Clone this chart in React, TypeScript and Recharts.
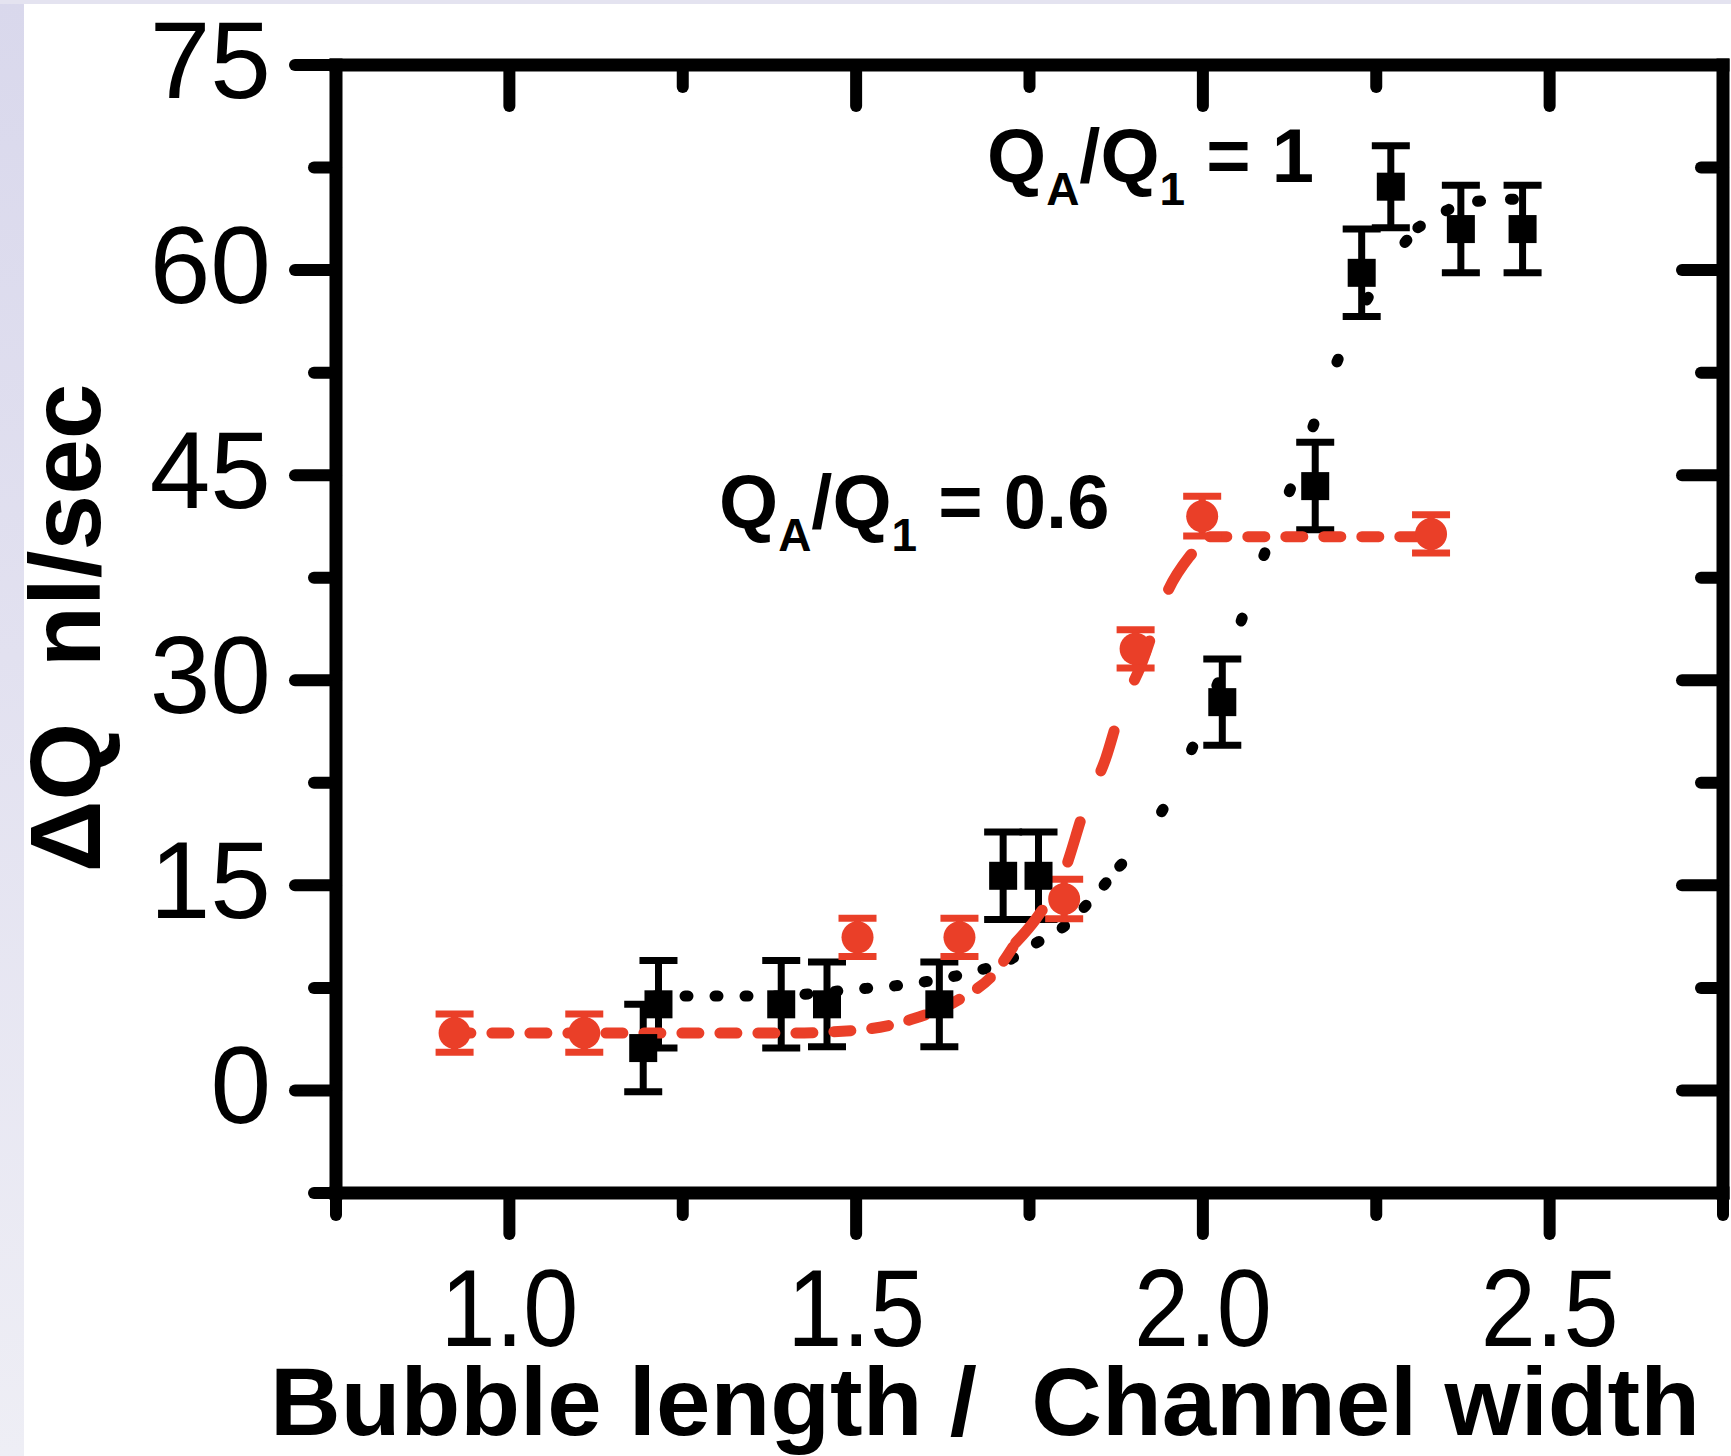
import React from "react";
import { ComposedChart, XAxis, YAxis, Scatter, Line, ErrorBar } from "recharts";

// ---------- axis ticks ----------
const xTicks = [0.75, 1.0, 1.25, 1.5, 1.75, 2.0, 2.25, 2.5, 2.75];
const xMajorTicks = [1.0, 1.5, 2.0, 2.5];
const xTickLabels = ["1.0", "1.5", "2.0", "2.5"];
const yTicks = [-7.5, 0, 7.5, 15, 22.5, 30, 37.5, 45, 52.5, 60, 67.5, 75];
const yMajorTicks = [0, 15, 30, 45, 60, 75];
const yTickLabels = ["0", "15", "30", "45", "60", "75"];

// ---------- measured data: QA/Q1 = 0.6 (red circles) ----------
const redX = [0.921, 1.108, 1.502, 1.649, 1.8, 1.903, 1.999, 2.329];
const redY = [4.2, 4.2, 11.2, 11.2, 14.0, 32.3, 42.0, 40.7];
const redErr = [1.4, 1.4, 1.4, 1.4, 1.45, 1.4, 1.45, 1.4];

// ---------- measured data: QA/Q1 = 1 (black squares) ----------
const blackX = [1.193, 1.215, 1.392, 1.458, 1.62, 1.712, 1.763, 2.028, 2.162, 2.229, 2.271, 2.372, 2.461];
const blackY = [3.1, 6.3, 6.3, 6.3, 6.3, 15.7, 15.7, 28.4, 44.2, 59.8, 66.1, 63.0, 63.0];
const blackErr = [3.2, 3.2, 3.2, 3.1, 3.1, 3.2, 3.2, 3.15, 3.2, 3.2, 3.0, 3.2, 3.2];

// ---------- fit curves ----------
const redFitLowX = [0.92, 1.1, 1.4, 1.5, 1.58, 1.65, 1.7, 1.73];
const redFitLowY = [4.2, 4.2, 4.2, 4.4, 5.2, 6.7, 8.6, 10.8];
const redFitSteepX = [1.73, 1.76, 1.8, 1.83, 1.86, 1.88, 1.91, 1.95, 1.98, 2.01];
const redFitSteepY = [10.8, 12.6, 16.0, 20.7, 24.3, 27.6, 31.0, 36.6, 39.0, 40.5];
const redFitHighX = [2.01, 2.15, 2.33];
const redFitHighY = [40.5, 40.5, 40.5];

const blackFitLowX = [1.21, 1.3, 1.37, 1.5, 1.58, 1.67, 1.72, 1.75, 1.8, 1.84, 1.88];
const blackFitLowY = [6.9, 6.9, 6.9, 7.4, 7.8, 8.7, 9.5, 10.5, 12.0, 14.0, 16.4];
const blackFitSteepX = [1.88, 1.93, 1.97, 2.01, 2.05, 2.09, 2.14, 2.18, 2.27, 2.31];
const blackFitSteepY = [16.4, 19.5, 23.3, 28.3, 33.6, 39.4, 45.8, 51.6, 60.6, 63.1];
const blackFitHighX = [2.31, 2.39, 2.46];
const blackFitHighY = [63.1, 65.0, 65.2];

const RED = "#EA3F28";
const FONT = '"Liberation Sans", Arial, Helvetica, sans-serif';

const pts = (xs: number[], ys: number[], es?: number[]) =>
  xs.map((x, i) => ({ x, y: ys[i], e: es ? es[i] : 0 }));

const redData = pts(redX, redY, redErr);
const blackData = pts(blackX, blackY, blackErr);

const near = (arr: number[], v: number) => arr.findIndex((m) => Math.abs(m - v) < 1e-9);

const MAJOR = 41;
const MINOR = 22;
const TW = 12;

function BottomTick(p: any) {
  const { x, y, payload } = p;
  const idx = near(xMajorTicks, payload.value);
  const major = idx >= 0;
  return (
    <g>
      <line x1={x} y1={y} x2={x} y2={y + (major ? MAJOR : MINOR)} stroke="#000" strokeWidth={TW} strokeLinecap="round" />
      {major && (
        <text
          transform={`translate(${x},${y + 153}) scale(0.9,1)`}
          textAnchor="middle"
          fontFamily={FONT}
          fontSize={110}
          fill="#000"
        >
          {xTickLabels[idx]}
        </text>
      )}
    </g>
  );
}

function TopTick(p: any) {
  const { x, y, payload } = p;
  const major = near(xMajorTicks, payload.value) >= 0;
  return (
    <line x1={x} y1={y} x2={x} y2={y + (major ? MAJOR : MINOR)} stroke="#000" strokeWidth={TW} strokeLinecap="round" />
  );
}

function LeftTick(p: any) {
  const { x, y, payload } = p;
  const idx = near(yMajorTicks, payload.value);
  const major = idx >= 0;
  return (
    <g>
      <line x1={x} y1={y} x2={x - (major ? MAJOR : MINOR)} y2={y} stroke="#000" strokeWidth={TW} strokeLinecap="round" />
      {major && (
        <text x={x - 65} y={y + 33} textAnchor="end" fontFamily={FONT} fontSize={109} fill="#000">
          {yTickLabels[idx]}
        </text>
      )}
    </g>
  );
}

function RightTick(p: any) {
  const { x, y, payload } = p;
  const major = near(yMajorTicks, payload.value) >= 0;
  return (
    <line x1={x} y1={y} x2={x - (major ? MAJOR : MINOR)} y2={y} stroke="#000" strokeWidth={TW} strokeLinecap="round" />
  );
}

const RedDot = (p: any) => <circle cx={p.cx} cy={p.cy} r={16} fill={RED} />;
const BlackSquare = (p: any) => <rect x={p.cx - 14} y={p.cy - 14} width={28} height={28} fill="#000" />;
const NoShape = () => <g />;

const axisLine = { stroke: "#000", strokeWidth: 13, strokeLinecap: "square" as const };

export default function App() {
  return (
    <div style={{ position: "relative", width: 1731, height: 1456, background: "#fff", overflow: "hidden" }}>
      <style>{"body{margin:0}"}</style>
      <div
        style={{
          position: "absolute",
          left: 0,
          top: 0,
          width: 24,
          height: 1456,
          background: "linear-gradient(180deg, #D9D8EC 0%, #E2E1F0 45%, #EEEEF5 100%)",
        }}
      />
      <div style={{ position: "absolute", left: 0, top: 0, width: 1731, height: 4, background: "#E4E3F0" }} />
      <div style={{ position: "absolute", left: 0, top: 0 }}>
        <ComposedChart width={1731} height={1456} margin={{ top: 64, right: 7, bottom: 262, left: 335 }}>
          <XAxis
            xAxisId={0}
            dataKey="x"
            type="number"
            domain={[0.75, 2.75]}
            ticks={xTicks}
            interval={0}
            height={1}
            tickSize={0}
            tickMargin={0}
            axisLine={axisLine}
            tickLine={false}
            tick={BottomTick}
          />
          <XAxis
            xAxisId="top"
            orientation="top"
            dataKey="x"
            type="number"
            domain={[0.75, 2.75]}
            ticks={xTicks}
            interval={0}
            height={1}
            tickSize={0}
            tickMargin={0}
            axisLine={axisLine}
            tickLine={false}
            tick={TopTick}
          />
          <YAxis
            yAxisId={0}
            type="number"
            domain={[-7.5, 75]}
            ticks={yTicks}
            interval={0}
            width={1}
            tickSize={0}
            tickMargin={0}
            axisLine={axisLine}
            tickLine={false}
            tick={LeftTick}
          />
          <YAxis
            yAxisId="right"
            orientation="right"
            type="number"
            domain={[-7.5, 75]}
            ticks={yTicks}
            interval={0}
            width={1}
            tickSize={0}
            tickMargin={0}
            axisLine={axisLine}
            tickLine={false}
            tick={RightTick}
          />

          {/* invisible series that binds the mirrored top/right axes so their ticks are computed */}
          <Scatter xAxisId="top" yAxisId="right" data={redData} dataKey="y" shape={NoShape} isAnimationActive={false} />

          <Line data={pts(blackFitLowX, blackFitLowY)} dataKey="y" type="monotone" stroke="#000" strokeWidth={11}
            strokeDasharray="3 27" strokeLinecap="round" dot={false} activeDot={false} isAnimationActive={false} />
          <Line data={pts(blackFitSteepX, blackFitSteepY)} dataKey="y" type="monotone" stroke="#000" strokeWidth={11}
            strokeDasharray="3 66" strokeLinecap="round" dot={false} activeDot={false} isAnimationActive={false} />
          <Line data={pts(blackFitHighX, blackFitHighY)} dataKey="y" type="monotone" stroke="#000" strokeWidth={11}
            strokeDasharray="3 30" strokeLinecap="round" dot={false} activeDot={false} isAnimationActive={false} />

          <Scatter data={blackData} dataKey="y" shape={BlackSquare} isAnimationActive={false}>
            <ErrorBar dataKey="e" direction="y" width={19} strokeWidth={7} stroke="#000" isAnimationActive={false} />
          </Scatter>

          <Line data={pts(redFitLowX, redFitLowY)} dataKey="y" type="monotone" stroke={RED} strokeWidth={11}
            strokeDasharray="17 21" strokeLinecap="round" dot={false} activeDot={false} isAnimationActive={false} />
          <Line data={pts(redFitSteepX, redFitSteepY)} dataKey="y" type="monotone" stroke={RED} strokeWidth={11}
            strokeDasharray="42 55" strokeLinecap="round" dot={false} activeDot={false} isAnimationActive={false} />
          <Line data={pts(redFitHighX, redFitHighY)} dataKey="y" type="monotone" stroke={RED} strokeWidth={11}
            strokeDasharray="17 21" strokeLinecap="round" dot={false} activeDot={false} isAnimationActive={false} />

          <Scatter data={redData} dataKey="y" shape={RedDot} isAnimationActive={false}>
            <ErrorBar dataKey="e" direction="y" width={19} strokeWidth={7} stroke={RED} isAnimationActive={false} />
          </Scatter>
        </ComposedChart>
      </div>
      <svg
        width={1731}
        height={1456}
        style={{ position: "absolute", left: 0, top: 0, pointerEvents: "none" }}
      >
        <text
          transform="translate(100,628) rotate(-90)"
          textAnchor="middle"
          fontFamily={FONT}
          fontWeight="bold"
          fontSize={100}
          xmlSpace="preserve"
          style={{ whiteSpace: "pre" }}
        >
          {"ΔQ  nl/sec"}
        </text>
        <text
          x={985}
          y={1435}
          textAnchor="middle"
          fontFamily={FONT}
          fontWeight="bold"
          fontSize={97}
          textLength={1430}
          lengthAdjust="spacingAndGlyphs"
          xmlSpace="preserve"
          style={{ whiteSpace: "pre" }}
        >
          {"Bubble length /  Channel width"}
        </text>
        <text x={987} y={182} fontFamily={FONT} fontWeight="bold" fontSize={76} xmlSpace="preserve" style={{ whiteSpace: "pre" }}>
          Q<tspan fontSize={46} dy={23}>A</tspan>
          <tspan fontSize={76} dy={-23}>/Q</tspan>
          <tspan fontSize={46} dy={23}>1</tspan>
          <tspan fontSize={76} dy={-23}>{" = 1"}</tspan>
        </text>
        <text x={719} y={528} fontFamily={FONT} fontWeight="bold" fontSize={76} xmlSpace="preserve" style={{ whiteSpace: "pre" }}>
          Q<tspan fontSize={46} dy={23}>A</tspan>
          <tspan fontSize={76} dy={-23}>/Q</tspan>
          <tspan fontSize={46} dy={23}>1</tspan>
          <tspan fontSize={76} dy={-23}>{" = 0.6"}</tspan>
        </text>
      </svg>
    </div>
  );
}
